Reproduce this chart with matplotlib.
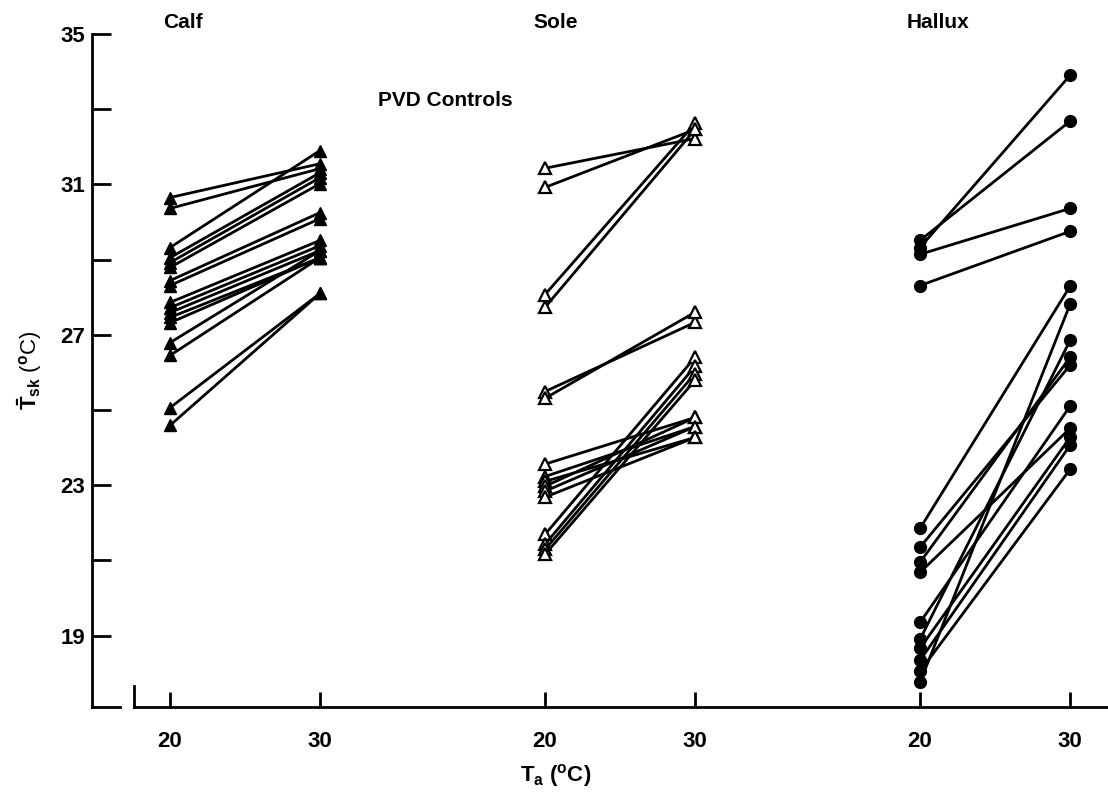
import matplotlib
matplotlib.use('Agg')
import matplotlib.pyplot as plt
import matplotlib.ticker as mticker

plt.rcParams['font.family'] = ['Liberation Sans', 'DejaVu Sans']
plt.rcParams['font.weight'] = 'bold'
plt.rcParams['mathtext.fontset'] = 'custom'
plt.rcParams['mathtext.rm'] = 'Liberation Sans:bold'
plt.rcParams['mathtext.it'] = 'Liberation Sans:bold'
plt.rcParams['mathtext.bf'] = 'Liberation Sans:bold'

# skin temperature at Ta = 20 and Ta = 30, one pair per subject
calf_20 = [30.65, 30.36, 29.32, 29.05, 28.92, 28.79, 28.44, 28.31, 27.86,
           27.72, 27.59, 27.46, 27.32, 26.79, 26.45, 25.06, 24.59]
calf_30 = [31.55, 31.42, 31.90, 31.31, 31.18, 31.02, 30.25, 30.09, 29.51,
           29.37, 29.24, 29.05, 29.05, 29.24, 29.05, 28.10, 28.10]

sole_20 = [31.43, 30.92, 28.07, 27.73, 25.49, 25.31, 23.56, 23.23, 23.10,
           22.97, 22.84, 22.68, 21.69, 21.43, 21.29, 21.16]
sole_30 = [32.22, 32.46, 32.62, 32.46, 27.33, 27.60, 24.80, 24.56, 24.27,
           24.80, 24.56, 24.27, 26.40, 26.16, 25.97, 25.79]

hallux_20 = [29.51, 29.32, 29.14, 28.31, 21.85, 21.35, 20.95, 20.68, 19.35,
             18.90, 18.66, 18.34, 18.05, 17.76]
hallux_30 = [32.68, 33.90, 30.36, 29.75, 28.29, 26.19, 26.40, 24.51, 25.10,
             26.85, 24.27, 24.06, 23.42, 27.81]

group_names = ['Calf', 'Sole', 'Hallux']
group_offset = [0, 25, 50]
ta = [20, 30]
y_labels = [19, 23, 27, 31, 35]

fig = plt.figure(figsize=(11.08, 8.02), dpi=100)
ax = fig.add_axes([92/1108, 1-707/802, 1-92/1108, (707-34)/802])

styles = [dict(marker='^', mfc='black', mec='black', ms=8),
          dict(marker='^', mfc='white', mec='black', ms=8, mew=1.6),
          dict(marker='o', mfc='black', mec='black', ms=8.5)]
data = [(calf_20, calf_30), (sole_20, sole_30), (hallux_20, hallux_30)]

for g, (a, b) in enumerate(data):
    xs = [t + group_offset[g] for t in ta]
    for v20, v30 in zip(a, b):
        ax.plot(xs, [v20, v30], color='black', lw=2, **styles[g])

ax.set_xlim(14.8, 82.53)
ax.set_ylim(17.1, 35)

# axes look
for s in ['top', 'right']:
    ax.spines[s].set_visible(False)
ax.spines['left'].set_linewidth(2)
ax.spines['bottom'].set_linewidth(2)
x_start = 14.8 + (134-92)/15
ax.spines['bottom'].set_bounds(x_start, 82.53)
ax.plot([0, (120-92)/1016], [0, 0], transform=ax.transAxes, color='black',
        lw=2, clip_on=False)
ax.plot([x_start, x_start], [17.1, 17.1+21/37.6], color='black', lw=2,
        clip_on=False)

ax.set_yticks(range(19, 36, 2))
ax.set_yticklabels([str(v) if v in y_labels else '' for v in range(19, 36, 2)])
ax.tick_params(axis='y', direction='in', length=14, width=2, pad=5,
               labelsize=16)

xt = [t + o for o in group_offset for t in ta]
ax.set_xticks(xt)
ax.set_xticklabels([str(t) for o in group_offset for t in ta])
ax.tick_params(axis='x', direction='in', length=11, width=2, pad=17,
               labelsize=16)
for lab in ax.get_xticklabels() + ax.get_yticklabels():
    lab.set_fontweight('bold')

ax.set_ylabel(r'$\bar{\mathrm{T}}_{\mathrm{sk}}$ ($^{\mathrm{o}}$C)',
              fontsize=16, labelpad=12)
fig.text(556/1108, 1-775/802, r'T$_{\mathrm{a}}$ ($^{\mathrm{o}}$C)',
         fontsize=16, ha='center', va='center', fontweight='bold')

name_x = [183, 556, 938]
for n, px in zip(group_names, name_x):
    fig.text(px/1108, 1-22/802, n, fontsize=15, ha='center', va='center',
             fontweight='bold')
fig.text(445/1108, 1-100/802, 'PVD Controls', fontsize=15, ha='center',
         va='center', fontweight='bold')

fig.savefig('out.png', dpi=100)
